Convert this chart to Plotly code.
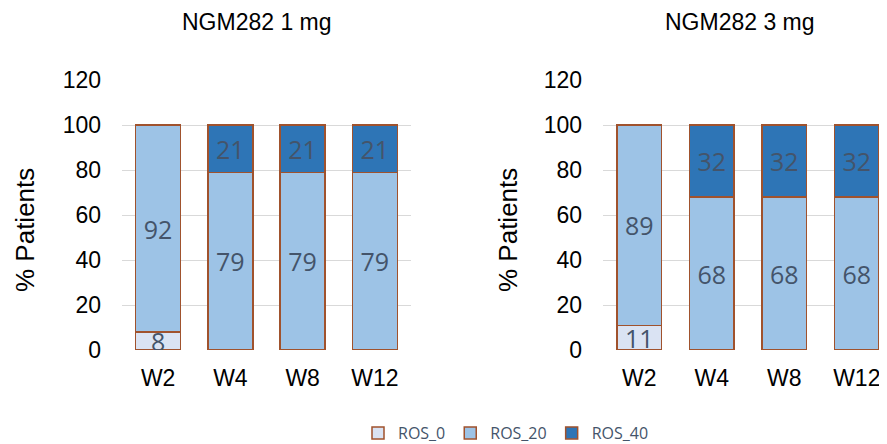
import plotly.graph_objects as go

weeks = ["W2", "W4", "W8", "W12"]
series_names = ["ROS_0", "ROS_20", "ROS_40"]
dose_1mg = {"ROS_0": [8, 0, 0, 0], "ROS_20": [92, 79, 79, 79], "ROS_40": [0, 21, 21, 21]}
dose_3mg = {"ROS_0": [11, 0, 0, 0], "ROS_20": [89, 68, 68, 68], "ROS_40": [0, 32, 32, 32]}
panel_titles = ["NGM282 1 mg", "NGM282 3 mg"]
y_ticks = [0, 20, 40, 60, 80, 100, 120]

colors = {"ROS_0": "#DAE3F3", "ROS_20": "#9DC3E6", "ROS_40": "#2E75B6"}
border = "#A0522D"
label_color = "#44546A"

W, H = 887, 444
OFF = 8  # page body margin offset
fig = go.Figure()

for i, data in enumerate([dose_1mg, dose_3mg]):
    xa = "x" if i == 0 else "x2"
    ya = "y" if i == 0 else "y2"
    for name in series_names:
        vals = data[name]
        fig.add_trace(go.Bar(
            x=weeks, y=vals, name=name, xaxis=xa, yaxis=ya,
            marker=dict(color=colors[name], line=dict(color=border, width=1.5)),
            text=[str(v) if v else "" for v in vals],
            textposition="inside", insidetextanchor="middle",
            constraintext="none", textangle=0,
            textfont=dict(family="Open Sans", size=25, color=label_color),
            showlegend=(i == 0),
        ))

def px_x(p):
    return (p - OFF) / W

def px_y(p):
    return 1 - (p - OFF) / H

axis_common = dict(
    range=[0, 120], tickvals=y_ticks, showgrid=True, gridcolor="#D9D9D9",
    gridwidth=1, zeroline=False, showline=False, automargin=False,
    tickfont=dict(family="Liberation Sans, Arial", size=23, color="#000000"),
    ticklabelstandoff=20,
)
xcommon = dict(
    showgrid=False, zeroline=False, showline=False, automargin=False,
    tickfont=dict(family="Liberation Sans, Arial", size=23, color="#000000"),
    ticklabelstandoff=12,
)

fig.update_layout(
    width=W, height=H,
    margin=dict(l=0, r=0, t=0, b=0),
    paper_bgcolor="white", plot_bgcolor="white",
    barmode="stack", bargap=0.38,
    xaxis=dict(domain=[px_x(122), px_x(411)], anchor="y", range=[-0.5, 3.5], **xcommon),
    yaxis=dict(domain=[px_y(350), px_y(80)], anchor="x", **axis_common),
    xaxis2=dict(domain=[px_x(603), px_x(887)], anchor="y2", range=[-0.5, 3.417], **xcommon),
    yaxis2=dict(domain=[px_y(350), px_y(80)], anchor="x2", **axis_common),
    legend=dict(orientation="h", x=px_x(506), xanchor="center", y=px_y(433), yanchor="middle",
                font=dict(family="Open Sans", size=16, color=label_color),
                itemwidth=30, traceorder="normal"),
)

annots = [
    dict(text=panel_titles[0], x=px_x(257), y=px_y(22)),
    dict(text=panel_titles[1], x=px_x(740), y=px_y(22)),
]
for a in annots:
    fig.add_annotation(xref="paper", yref="paper", x=a["x"], y=a["y"], text=a["text"],
                       showarrow=False, xanchor="center", yanchor="middle",
                       font=dict(family="Liberation Sans, Arial", size=23, color="#000000"))
for xp in [25, 508]:
    fig.add_annotation(xref="paper", yref="paper", x=px_x(xp), y=px_y(230), text="% Patients",
                       textangle=-90, showarrow=False, xanchor="center", yanchor="middle",
                       font=dict(family="Liberation Sans, Arial", size=26, color="#000000"))

fig.write_html("out.html")
